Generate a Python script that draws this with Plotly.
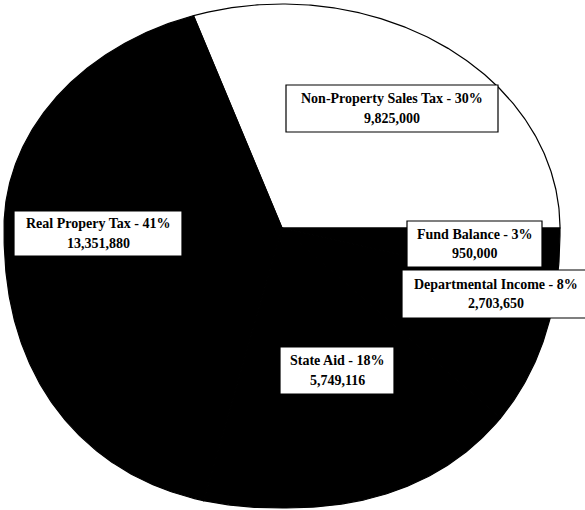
import numpy as np
import plotly.graph_objects as go

# Revenue sources and amounts
categories = ["Non-Property Sales Tax", "Real Propery Tax", "State Aid",
              "Departmental Income", "Fund Balance"]
amounts = [9825000, 13351880, 5749116, 2703650, 950000]
slice_colors = ["white", "black", "black", "black", "black"]

# Pie outline in pixel space (slightly egg-shaped disc)
CX, CY = 282, 228
RX = 278
RY_TOP, RY_BOTTOM = 224, 280
N_TOP, N_BOTTOM = 2.0, 2.25

# Label boxes (x0, y0, x1, y1) in pixels, same order as categories
label_boxes = [
    (286, 85, 498, 132),
    (14, 211, 182, 256),
    (280, 347, 394, 394),
    (402, 270, 590, 318),
    (407, 221, 542, 267),
]


def rim(t):
    c, s = np.cos(t), np.sin(t)
    ry = np.where(s >= 0, RY_TOP, RY_BOTTOM)
    n = np.where(s >= 0, N_TOP, N_BOTTOM)
    x = CX + RX * np.sign(c) * np.abs(c) ** (2 / n)
    y = CY - ry * np.sign(s) * np.abs(s) ** (2 / n)
    return x, y


total = sum(amounts)
fractions = [a / total for a in amounts]
starts = np.concatenate([[0.0], np.cumsum(fractions)[:-1]]) * 2 * np.pi
ends = np.cumsum(fractions) * 2 * np.pi

fig = go.Figure()
for name, color, t0, t1 in zip(categories, slice_colors, starts, ends):
    t = np.linspace(t0, t1, max(8, int((t1 - t0) * 120)))
    rx_, ry_ = rim(t)
    xs = np.concatenate([[CX], rx_, [CX]])
    ys = np.concatenate([[CY], ry_, [CY]])
    fig.add_trace(go.Scatter(
        x=xs, y=ys, mode="lines", fill="toself", fillcolor=color,
        line=dict(color="black", width=1.2), name=name,
        hoverinfo="skip", showlegend=False,
    ))

label_font = dict(family="Liberation Serif", size=14, color="black", weight="bold")
shapes = []
annotations = []
for name, amt, frac, box in zip(categories, amounts, fractions, label_boxes):
    x0, y0, x1, y1 = box
    xc, yc = (x0 + x1) / 2, (y0 + y1) / 2
    shapes.append(dict(type="rect", xref="x", yref="y", x0=x0, y0=y0, x1=x1, y1=y1,
                       fillcolor="white", line=dict(color="black", width=1.2),
                       layer="above"))
    lines = [f"{name} - {round(frac * 100)}%", f"{amt:,}"]
    for line, dy in zip(lines, (-10, 9.5)):
        annotations.append(dict(
            x=xc, y=yc + dy, xref="x", yref="y", text=line,
            showarrow=False, xanchor="center", yanchor="middle",
            font=label_font,
        ))

fig.update_layout(
    width=585, height=510,
    margin=dict(l=0, r=0, t=0, b=0),
    paper_bgcolor="white", plot_bgcolor="white",
    xaxis=dict(range=[0, 585], visible=False, fixedrange=True),
    yaxis=dict(range=[510, 0], visible=False, fixedrange=True),
    shapes=shapes, annotations=annotations,
    showlegend=False,
)

fig.write_html("out.html")
